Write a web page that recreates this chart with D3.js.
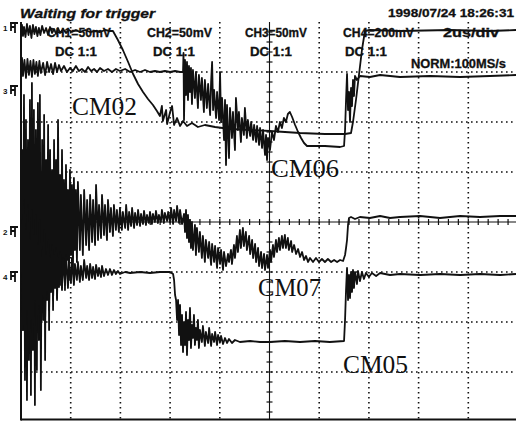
<!DOCTYPE html>
<html>
<head>
<meta charset="utf-8">
<script src="https://cdn.jsdelivr.net/npm/d3@7"></script>
<style>
  html, body { margin: 0; padding: 0; background: #fff; }
  svg { display: block; }
</style>
</head>
<body>
<svg id="scope" width="516" height="421"></svg>
<script>
// Four-channel scope capture. Time in µs (2 µs/div), amplitude in screen mV (50 mV/div).
const timeDomain = [0, 20];
const voltDomain = [-200, 200];

const statusText = "Waiting for trigger";
const stampText = "1998/07/24 18:26:31";
const channelScales = ["CH1=50mV", "CH2=50mV", "CH3=50mV", "CH4=200mV"];
const channelCoupling = ["DC 1:1", "DC 1:1", "DC 1:1", "DC 1:1"];
const timebaseText = "2us/div";
const acquisitionText = "NORM:100MS/s";

// ground reference markers [channel, mV]
const groundMarks = [["1", 194], ["3", 131], ["2", -10], ["4", -55]];

// trace names
const traceNames = ["CM02", "CM06", "CM07", "CM05"];

// CM02 samples [µs, mV]
const cm02 = [
  [0,192],[0.04,197],[0.08,186],[0.12,195],[0.18,185],[0.24,198],[0.30,187],[0.36,196],[0.42,184],
  [0.48,197],[0.54,188],[0.60,195],[0.66,186],[0.72,194],[0.78,187],[0.85,196],[0.93,189],[1.01,194],
  [1.09,187],[1.17,195],[1.25,189],[1.33,193],[1.41,188],[1.49,194],[1.57,189],[1.69,193],[1.81,189],
  [1.93,192],[2.05,190],[2.21,192],[2.37,190],[2.58,192],[2.78,190],[2.98,191],[3.18,190],[3.38,192],
  [3.58,191],[3.70,191],[3.90,182],[4.10,172],[4.31,160],[4.51,148],[4.71,138],[4.91,130],[5.11,123],
  [5.31,117],[5.47,111],[5.59,106],[5.67,116],[5.71,101],[5.84,112],[5.88,98],[6.00,110],[6.08,116],
  [6.16,97],[6.28,104],[6.40,96],[6.52,101],[6.68,96],[6.88,99],[7.12,95],[7.40,97],[7.81,95],
  [8.41,93],[9.22,92],[10.02,91],[11.23,89],[12.23,88],[13.04,88],[13.28,89],[13.36,100],[13.48,122],
  [13.60,147],[13.72,172],[13.84,191],[14.04,192],[15.25,191],[17.26,192],[18.87,191],[19.92,192]
];

// CM06 samples [µs, mV]
const cm06 = [
  [0,154],[0.04,164],[0.08,146],[0.14,162],[0.20,144],[0.26,163],[0.32,147],[0.38,161],[0.44,145],
  [0.50,162],[0.56,148],[0.62,160],[0.68,146],[0.74,161],[0.80,149],[0.89,159],[0.97,147],[1.05,160],
  [1.13,150],[1.21,158],[1.29,148],[1.37,159],[1.45,150],[1.53,157],[1.61,151],[1.73,156],[1.85,150],
  [1.97,154],[2.09,151],[2.21,156],[2.33,151],[2.45,153],[2.58,150],[2.70,155],[2.82,151],[2.94,153],
  [3.06,150],[3.18,154],[3.34,151],[3.50,153],[3.66,150],[3.82,153],[3.98,151],[4.19,153],[4.39,150],
  [4.59,152],[4.79,150],[4.99,152],[5.19,150],[5.39,151],[5.59,150],[5.79,151],[6.00,150],[6.20,151],
  [6.40,150],[6.52,150],[6.54,169],[6.56,102],[6.60,162],[6.64,127],[6.68,160],[6.72,122],[6.76,156],
  [6.80,130],[6.84,154],[6.88,118],[6.92,152],[7.00,124],[7.04,150],[7.12,114],[7.16,147],[7.24,122],
  [7.28,144],[7.36,110],[7.40,142],[7.48,114],[7.53,138],[7.61,107],[7.65,140],[7.69,160],[7.73,112],
  [7.77,132],[7.85,104],[7.89,130],[7.97,102],[8.01,150],[8.05,100],[8.09,124],[8.17,82],[8.21,122],
  [8.25,57],[8.29,117],[8.37,64],[8.41,114],[8.49,84],[8.53,110],[8.61,72],[8.65,124],[8.73,92],
  [8.77,110],[8.85,80],[8.89,104],[8.97,87],[9.01,114],[9.09,84],[9.13,102],[9.22,86],[9.26,100],
  [9.34,82],[9.38,97],[9.46,80],[9.50,96],[9.58,77],[9.62,94],[9.70,74],[9.74,92],[9.82,67],
  [9.86,87],[9.90,62],[9.94,84],[10.02,72],[10.10,90],[10.18,82],[10.26,96],[10.34,90],[10.42,100],
  [10.50,94],[10.58,104],[10.66,100],[10.74,108],[10.82,110],[10.91,105],[11.03,97],[11.15,90],
  [11.27,84],[11.39,79],[11.51,76],[11.63,76],[12.23,76],[12.84,75],[13.00,76],[13.04,92],[13.08,122],
  [13.12,148],[13.16,112],[13.20,130],[13.24,100],[13.28,134],[13.32,116],[13.36,142],[13.40,126],
  [13.44,146],[13.52,142],[13.64,146],[14.04,145],[14.45,147],[15.25,145],[16.46,146],[17.67,145],
  [18.87,146],[19.92,147]
];

// CM07 samples [µs, mV]
const cm07 = [
  [0,0],[0.04,72],[0.08,-108],[0.12,127],[0.16,-158],[0.20,102],[0.24,-178],[0.28,82],[0.32,-138],
  [0.36,122],[0.40,-173],[0.44,139],[0.48,-128],[0.52,112],[0.56,-183],[0.60,92],[0.64,-148],[0.68,119],
  [0.72,-118],[0.76,127],[0.80,-168],[0.85,82],[0.89,-98],[0.93,107],[0.97,-138],[1.01,62],[1.05,-78],
  [1.09,97],[1.13,-108],[1.17,72],[1.21,-68],[1.25,52],[1.29,-88],[1.33,82],[1.37,-58],[1.41,62],
  [1.45,-78],[1.49,102],[1.53,-48],[1.57,47],[1.61,-63],[1.65,72],[1.69,-43],[1.73,42],[1.77,-68],
  [1.81,57],[1.85,-38],[1.89,32],[1.93,-58],[1.97,52],[2.01,-33],[2.05,37],[2.09,-48],[2.13,44],
  [2.17,-28],[2.21,32],[2.25,-40],[2.29,40],[2.37,-28],[2.41,27],[2.49,-33],[2.54,32],[2.62,-23],
  [2.66,22],[2.74,-28],[2.78,27],[2.86,-20],[2.90,22],[2.98,-23],[3.02,37],[3.10,-18],[3.14,17],
  [3.22,-16],[3.26,27],[3.34,-13],[3.38,17],[3.46,-18],[3.50,22],[3.58,-10],[3.62,14],[3.70,-14],
  [3.74,17],[3.82,-8],[3.86,12],[3.94,-10],[3.98,14],[4.06,-8],[4.10,10],[4.19,-6],[4.23,17],
  [4.31,-8],[4.35,10],[4.43,-4],[4.47,14],[4.55,-6],[4.59,9],[4.67,-3],[4.71,12],[4.79,-4],[4.83,8],
  [4.91,-2],[4.95,11],[5.03,-3],[5.07,7],[5.15,-1],[5.19,10],[5.27,-2],[5.31,8],[5.39,0],[5.43,11],
  [5.51,-1],[5.55,7],[5.63,0],[5.67,12],[5.75,-1],[5.79,9],[5.88,1],[5.92,10],[6.00,0],[6.04,14],
  [6.12,-2],[6.16,12],[6.24,1],[6.28,16],[6.36,-1],[6.40,12],[6.48,-2],[6.56,8],[6.60,-10],[6.64,12],
  [6.68,-16],[6.72,7],[6.76,-20],[6.80,2],[6.84,-26],[6.88,0],[6.92,-28],[7.00,-3],[7.04,-33],
  [7.08,-6],[7.16,-30],[7.20,-10],[7.28,-36],[7.32,-14],[7.40,-40],[7.44,-18],[7.53,-36],[7.57,-20],
  [7.65,-43],[7.69,-22],[7.77,-40],[7.81,-24],[7.89,-46],[7.93,-26],[8.01,-42],[8.05,-28],[8.13,-48],
  [8.17,-30],[8.25,-44],[8.33,-32],[8.37,-40],[8.45,-28],[8.49,-42],[8.57,-23],[8.61,-36],[8.69,-14],
  [8.73,-30],[8.81,-8],[8.85,-26],[8.93,-6],[8.97,-24],[9.05,-10],[9.09,-28],[9.18,-14],[9.22,-32],
  [9.30,-18],[9.34,-36],[9.42,-22],[9.46,-40],[9.54,-26],[9.58,-44],[9.66,-30],[9.70,-46],[9.78,-32],
  [9.82,-48],[9.90,-33],[9.94,-46],[10.02,-28],[10.06,-40],[10.14,-23],[10.18,-35],[10.26,-18],
  [10.30,-30],[10.38,-16],[10.42,-28],[10.50,-14],[10.54,-26],[10.62,-13],[10.66,-26],[10.74,-16],
  [10.78,-28],[10.87,-19],[10.91,-30],[10.99,-23],[11.07,-32],[11.15,-27],[11.23,-35],[11.31,-30],
  [11.39,-38],[11.47,-34],[11.55,-40],[11.63,-36],[11.75,-40],[11.87,-36],[11.99,-40],[12.11,-37],
  [12.23,-40],[12.35,-37],[12.48,-40],[12.60,-38],[12.72,-40],[12.84,-38],[12.96,-39],[13.04,-33],
  [13.08,-26],[13.12,-18],[13.16,-3],[13.20,4],[13.28,5],[13.44,3],[13.64,5],[14.04,4],[14.45,6],
  [14.85,4],[15.25,5],[16.06,6],[16.86,4],[17.67,6],[18.47,5],[19.28,6],[19.92,6]
];

// CM05 samples [µs, mV]
const cm05 = [
  [0,-50],[0.04,2],[0.08,-108],[0.12,22],[0.16,-123],[0.20,-8],[0.24,-88],[0.28,17],[0.32,-128],
  [0.36,-18],[0.40,-98],[0.44,12],[0.48,-118],[0.52,-13],[0.56,-78],[0.60,7],[0.64,-108],[0.68,-23],
  [0.72,-83],[0.76,2],[0.80,-118],[0.85,-28],[0.89,-73],[0.93,-8],[0.97,-98],[1.01,-33],[1.05,-68],
  [1.09,-18],[1.13,-88],[1.17,-36],[1.21,-70],[1.25,-23],[1.29,-78],[1.33,-33],[1.37,-66],[1.41,-26],
  [1.45,-76],[1.49,-36],[1.53,-65],[1.57,-30],[1.65,-68],[1.69,-36],[1.77,-63],[1.81,-33],[1.89,-66],
  [1.93,-40],[2.01,-61],[2.05,-36],[2.13,-63],[2.17,-42],[2.25,-58],[2.29,-40],[2.37,-60],[2.41,-44],
  [2.49,-58],[2.54,-38],[2.62,-56],[2.66,-44],[2.74,-58],[2.78,-42],[2.86,-56],[2.90,-45],[2.98,-57],
  [3.02,-43],[3.10,-54],[3.14,-46],[3.22,-55],[3.26,-44],[3.34,-54],[3.42,-47],[3.50,-53],[3.58,-47],
  [3.66,-53],[3.74,-48],[3.82,-52],[3.90,-49],[3.98,-52],[4.19,-50],[4.39,-51],[4.79,-50],[5.19,-51],
  [5.59,-50],[6.00,-50],[6.12,-52],[6.16,-58],[6.20,-73],[6.24,-78],[6.28,-98],[6.32,-78],[6.36,-113],
  [6.40,-83],[6.44,-123],[6.48,-93],[6.52,-130],[6.56,-100],[6.60,-123],[6.64,-90],[6.68,-133],
  [6.72,-98],[6.76,-118],[6.80,-86],[6.84,-126],[6.88,-103],[6.92,-116],[6.96,-93],[7.00,-123],
  [7.04,-106],[7.08,-118],[7.12,-98],[7.16,-126],[7.20,-108],[7.28,-120],[7.32,-104],[7.40,-124],
  [7.44,-110],[7.53,-121],[7.57,-106],[7.65,-124],[7.69,-112],[7.77,-120],[7.81,-110],[7.89,-123],
  [7.93,-113],[8.01,-120],[8.05,-114],[8.13,-122],[8.21,-116],[8.29,-121],[8.37,-117],[8.49,-121],
  [8.61,-118],[8.81,-120],[9.22,-119],[9.62,-120],[10.02,-120],[10.62,-119],[11.23,-120],[11.83,-119],
  [12.43,-120],[13.00,-119],[13.04,-98],[13.08,-68],[13.12,-46],[13.16,-78],[13.20,-53],[13.24,-76],
  [13.28,-50],[13.32,-70],[13.36,-48],[13.40,-66],[13.44,-50],[13.52,-62],[13.56,-49],[13.64,-59],
  [13.72,-50],[13.80,-57],[13.88,-51],[14.00,-55],[14.12,-51],[14.29,-54],[14.45,-51],[14.85,-53],
  [15.25,-52],[16.06,-53],[16.86,-52],[17.67,-53],[18.47,-52],[19.28,-53],[19.92,-52]
];

const traces = [cm02, cm06, cm07, cm05];

// ---------------------------------------------------------------------------
const W = 516, H = 421;
const svg = d3.select("#scope");
svg.append("rect").attr("width", W).attr("height", H).attr("fill", "#fff");

const x = d3.scaleLinear().domain(timeDomain).range([21, 518]);
const y = d3.scaleLinear().domain(voltDomain).range([422, 22]);
const plotTop = 22, plotBottom = 419.5, plotLeft = 21, plotRight = W;

const ink = "#111";
const sans = "'Liberation Sans', Arial, sans-serif";
const serif = "'Liberation Serif', 'Times New Roman', serif";

// graticule: dotted division lines, solid centre axes with minor ticks
const grid = svg.append("g");
const xDivs = d3.range(timeDomain[0] + 2, timeDomain[1], 2);
const yDivs = d3.range(voltDomain[0] + 50, voltDomain[1], 50);

grid.selectAll("line.vx").data(xDivs.filter(t => t !== 10)).join("line")
  .attr("x1", d => x(d)).attr("x2", d => x(d))
  .attr("y1", plotTop).attr("y2", plotBottom)
  .attr("stroke", ink).attr("stroke-width", 1.6).attr("stroke-dasharray", "1.6 3.4");
grid.selectAll("line.hy").data(yDivs.filter(v => v !== 0)).join("line")
  .attr("x1", plotLeft).attr("x2", plotRight)
  .attr("y1", d => y(d)).attr("y2", d => y(d))
  .attr("stroke", ink).attr("stroke-width", 1.6).attr("stroke-dasharray", "1.6 3.4");

// centre axes
grid.append("line").attr("x1", x(10)).attr("x2", x(10)).attr("y1", plotTop).attr("y2", plotBottom)
  .attr("stroke", ink).attr("stroke-width", 1.1);
grid.append("line").attr("x1", plotLeft).attr("x2", plotRight).attr("y1", y(0)).attr("y2", y(0))
  .attr("stroke", ink).attr("stroke-width", 1.1);
grid.selectAll("line.tx").data(d3.range(0.4, 20, 0.4)).join("line")
  .attr("x1", d => x(d)).attr("x2", d => x(d))
  .attr("y1", y(0) - 3).attr("y2", y(0) + 3)
  .attr("stroke", ink).attr("stroke-width", 1.2);
grid.selectAll("line.ty").data(d3.range(-190, 200, 10)).join("line")
  .attr("x1", x(10) - 3).attr("x2", x(10) + 3)
  .attr("y1", d => y(d)).attr("y2", d => y(d))
  .attr("stroke", ink).attr("stroke-width", 1.2);

// frame (left and bottom edges)
svg.append("line").attr("x1", plotLeft).attr("x2", plotLeft).attr("y1", plotTop).attr("y2", plotBottom + 1)
  .attr("stroke", ink).attr("stroke-width", 2);
svg.append("line").attr("x1", plotLeft).attr("x2", plotRight).attr("y1", plotBottom).attr("y2", plotBottom)
  .attr("stroke", ink).attr("stroke-width", 2);

// header text
const hdr = svg.append("g").attr("fill", ink).attr("font-family", sans).attr("font-weight", "bold")
  .attr("stroke", ink).attr("stroke-width", 0.3);
hdr.append("text").attr("x", 20).attr("y", 18).attr("font-size", 12).attr("font-style", "italic")
  .attr("textLength", 135).attr("lengthAdjust", "spacingAndGlyphs").text(statusText);
hdr.append("text").attr("x", 388).attr("y", 17).attr("font-size", 11)
  .attr("textLength", 126).attr("lengthAdjust", "spacingAndGlyphs").text(stampText);

const scaleX = [47, 147, 245, 343], scaleLen = [64, 65, 62, 71];
hdr.selectAll("text.sc").data(channelScales).join("text")
  .attr("x", (d, i) => scaleX[i]).attr("y", 37).attr("font-size", 12)
  .attr("textLength", (d, i) => scaleLen[i]).attr("lengthAdjust", "spacingAndGlyphs").text(d => d);
const dcX = [55, 153, 250, 345];
hdr.selectAll("text.dc").data(channelCoupling).join("text")
  .attr("x", (d, i) => dcX[i]).attr("y", 56).attr("font-size", 12)
  .attr("textLength", 42).attr("lengthAdjust", "spacingAndGlyphs").text(d => d);
hdr.append("text").attr("x", 443).attr("y", 37).attr("font-size", 12)
  .attr("textLength", 56).attr("lengthAdjust", "spacingAndGlyphs").text(timebaseText);
hdr.append("text").attr("x", 411).attr("y", 68).attr("font-size", 12)
  .attr("textLength", 95).attr("lengthAdjust", "spacingAndGlyphs").text(acquisitionText);

// ground reference markers on the left margin
const gm = svg.append("g").attr("stroke", ink).attr("fill", "none").attr("stroke-width", 1.8);
groundMarks.forEach(([ch, mv]) => {
  const gy = y(mv);
  gm.append("path").attr("d", `M10,${gy - 5}H18M15,${gy - 5}V${gy + 5}M11,${gy - 1}H15M11,${gy - 5}V${gy + 3}`);
  svg.append("text").attr("x", 3).attr("y", gy + 3).attr("font-family", sans).attr("font-weight", "bold")
    .attr("font-size", 8).attr("fill", ink).text(ch);
});

// traces
const line = d3.line().x(d => x(d[0])).y(d => y(d[1]));
svg.append("defs").append("clipPath").attr("id", "screen")
  .append("rect").attr("x", plotLeft).attr("y", plotTop).attr("width", plotRight - plotLeft).attr("height", plotBottom - plotTop);
svg.append("g").attr("clip-path", "url(#screen)")
  .selectAll("path").data(traces).join("path")
  .attr("d", line).attr("fill", "none").attr("stroke", ink)
  .attr("stroke-width", 1.8).attr("stroke-linejoin", "round");

// trace names
const nameX = [72, 271, 258, 343], nameY = [115, 177, 296, 373], nameLen = [65, 68, 63, 65];
svg.selectAll("text.nm").data(traceNames).join("text")
  .attr("x", (d, i) => nameX[i]).attr("y", (d, i) => nameY[i])
  .attr("font-family", serif).attr("font-size", 25).attr("fill", ink)
  .attr("textLength", (d, i) => nameLen[i]).attr("lengthAdjust", "spacingAndGlyphs").text(d => d);
</script>
</body>
</html>
